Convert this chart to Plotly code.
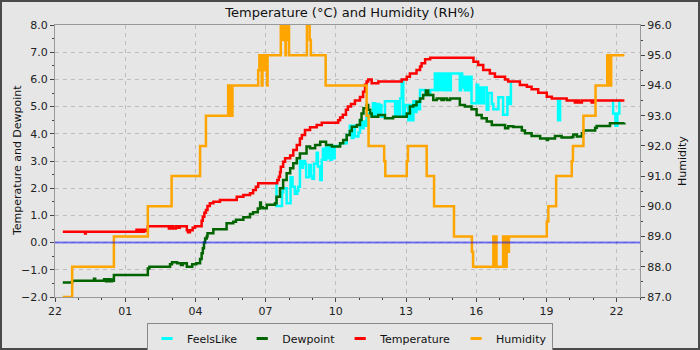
import pandas as pd
import plotly.graph_objects as go

# ---- data: clock times (22:00 -> 22:20 next day) and readings ----
DAY0 = "2024-05-14"

temp_time = ["22:20", "23:17", "23:19", "01:29", "01:33", "01:38", "01:43", "01:48", "01:53", "01:58",
             "02:52", "02:57", "03:03", "03:10", "03:15", "03:20", "03:38", "03:41", "03:46", "03:53",
             "03:59", "04:16", "04:19", "04:23", "04:27", "04:31", "04:37", "04:46", "05:03", "05:46",
             "06:03", "06:20", "06:28", "06:35", "06:41", "07:30", "07:34", "07:37", "07:39", "07:45",
             "07:50", "08:03", "08:11", "08:20", "08:28", "08:33", "08:41", "08:54", "09:11", "09:24",
             "10:06", "10:11", "10:18", "10:26", "10:31", "10:39", "10:49", "11:02", "11:10", "11:15",
             "11:19", "11:23", "11:32", "11:49", "12:49", "13:02", "13:10", "13:27", "13:36", "13:40",
             "13:49", "14:02", "15:53", "16:05", "16:18", "16:35", "16:48", "17:14", "17:22", "17:52",
             "18:10", "18:22", "18:39", "19:01", "19:14", "19:52", "20:13", "20:18", "20:24", "20:31",
             "20:56", "21:02", "22:20"]
temperature = [0.40, 0.33, 0.40, 0.47, 0.40, 0.47, 0.40, 0.47, 0.43, 0.60,
               0.52, 0.60, 0.52, 0.60, 0.55, 0.60, 0.45, 0.38, 0.45, 0.55,
               0.60, 0.80, 0.95, 1.10, 1.20, 1.35, 1.45, 1.50, 1.57, 1.69,
               1.75, 1.81, 1.93, 2.05, 2.18, 2.30, 2.42, 2.60, 2.79, 2.97,
               3.10, 3.20, 3.40, 3.59, 3.83, 3.96, 4.14, 4.24, 4.32, 4.41,
               4.50, 4.60, 4.70, 4.88, 5.00, 5.10, 5.22, 5.35, 5.55, 5.80,
               5.92, 6.00, 5.86, 5.92, 6.00, 6.10, 6.22, 6.35, 6.47, 6.59,
               6.74, 6.80, 6.65, 6.53, 6.35, 6.22, 6.10, 6.00, 5.92, 5.79,
               5.73, 5.64, 5.51, 5.36, 5.30, 5.22, 5.15, 5.22, 5.15, 5.22,
               5.15, 5.22, 5.22]

dew_time = ["22:20", "22:44", "23:40", "23:43", "00:06", "00:11", "00:16", "00:21", "00:26", "00:30",
            "00:31", "01:58", "02:02", "02:55", "03:00", "03:13", "03:23", "03:28", "03:38", "03:52",
            "04:02", "04:12", "04:16", "04:19", "04:22", "04:25", "04:29", "04:31", "04:46", "05:20",
            "05:37", "05:44", "06:03", "06:20", "06:28", "06:40", "06:46", "06:48", "06:53", "07:03",
            "07:24", "07:28", "07:37", "07:45", "07:54", "08:03", "08:11", "08:20", "08:28", "08:45",
            "08:54", "09:07", "09:20", "09:35", "09:50", "10:11", "10:19", "10:28", "10:36", "10:41",
            "10:54", "11:02", "11:06", "11:11", "11:19", "11:23", "11:28", "11:32", "11:49", "12:06",
            "12:27", "13:02", "13:10", "13:19", "13:27", "13:36", "13:44", "13:51", "13:57", "14:10",
            "14:19", "14:31", "14:37", "14:45", "14:53", "15:18", "15:31", "15:48", "16:01", "16:14",
            "16:27", "16:40", "17:14", "17:22", "17:35", "17:57", "18:05", "18:22", "18:44", "19:01",
            "19:04", "19:22", "19:39", "20:05", "20:09", "20:18", "20:31", "20:35", "21:05", "21:09",
            "21:43", "22:20"]
dewpoint = [-1.47, -1.40, -1.33, -1.40, -1.35, -1.42, -1.35, -1.42, -1.36, -1.40,
            -1.19, -0.95, -0.89, -0.80, -0.72, -0.76, -0.82, -0.76, -0.89, -0.80,
            -0.76, -0.60, -0.39, -0.21, 0.00, 0.15, 0.22, 0.34, 0.49, 0.71,
            0.77, 0.84, 0.93, 1.05, 1.12, 1.25, 1.47, 1.30, 1.26, 1.39,
            1.45, 1.69, 2.00, 2.30, 2.55, 2.73, 2.92, 3.10, 3.28, 3.53,
            3.47, 3.59, 3.71, 3.59, 3.53, 3.65, 3.77, 3.96, 4.10, 4.26,
            4.32, 4.51, 4.75, 4.94, 5.06, 4.88, 4.75, 4.63, 4.69, 4.57,
            4.63, 4.75, 5.00, 5.05, 5.18, 5.30, 5.43, 5.59, 5.43, 5.24,
            5.30, 5.24, 5.30, 5.24, 5.30, 5.06, 5.00, 4.90, 4.69, 4.57,
            4.45, 4.32, 4.20, 4.28, 4.25, 4.12, 4.02, 3.92, 3.83, 3.77,
            3.83, 3.92, 3.86, 3.88, 3.97, 3.90, 4.02, 4.12, 4.22, 4.29,
            4.39, 4.41]

# FeelsLike is only listed where it departs from the air temperature (None = gap)
feels_time = ["07:27", "07:28", "07:42", "07:45", "07:54", "08:04", "08:09", "08:15", "08:21", "08:24",
              "08:28", "08:32", "08:36", "08:41", "08:44", "08:52", "08:56", "09:00", "09:04", "09:11",
              "09:14", "09:20", "09:24", "09:27", "09:31", "09:35", "09:39", "09:43", "09:46", "09:50",
              "09:54", "09:57", "10:11", "10:28", "10:36", "10:41", "10:45", "10:49", "10:58", "11:02",
              "11:06", "11:11", "11:15", "11:19", "11:28", "11:35", "11:41", "11:46", "11:51", "11:53",
              "11:57", "12:06", "12:32", "12:36", "12:40", "12:45", "12:49", "12:53", "12:57", "13:06",
              "13:10", "13:15", "13:19", "13:23", "13:27", "13:32", "13:36", "13:49", "14:02", "14:14",
              "14:18", "14:22", "14:27", "14:31", "14:37", "14:40", "14:44", "14:48", "14:53", "14:55",
              "15:18", "15:21", "15:24", "15:27", "15:31", "15:35", "15:39", "15:43", "15:48", "16:01",
              "16:05", "16:10", "16:15", "16:20", "16:27", "16:31", "16:40", "16:44", "16:57", "17:09",
              "17:20", "17:24", "17:29", None,
              "19:29", "19:30", "19:35", None,
              "21:50", "21:51", "21:57", "22:02", "22:07"]
feels_like = [2.25, 1.35, 1.85, 2.00, 1.45, 2.40, 2.05, 1.80, 1.90, 2.05,
              3.00, 2.75, 3.00, 2.90, 2.40, 2.85, 2.45, 2.35, 2.90, 3.30,
              2.80, 2.30, 3.05, 3.45, 3.05, 3.50, 3.10, 3.55, 3.05, 3.50,
              3.10, 3.55, 3.65, 3.96, 4.30, 3.85, 4.30, 3.90, 4.05, 4.50,
              4.20, 4.45, 4.30, 4.75, 4.65, 5.12, 4.70, 5.10, 4.70, 5.06,
              4.63, 5.20, 4.63, 5.20, 4.63, 5.30, 5.98, 4.63, 5.06, 4.50,
              5.06, 4.50, 5.20, 4.80, 5.20, 4.90, 5.61, 5.43, 5.61, 6.22,
              5.60, 6.22, 5.61, 6.22, 5.60, 6.22, 5.60, 6.22, 5.60, 6.22,
              5.60, 6.22, 5.70, 6.10, 5.60, 6.10, 5.60, 6.10, 5.12, 5.80,
              5.12, 5.70, 5.12, 5.70, 4.88, 5.50, 5.10, 4.90, 5.34, 4.70,
              5.34, 5.10, 5.92, None,
              5.25, 4.50, 5.25, None,
              5.22, 4.75, 4.30, 4.75, 5.22]

hum_time = ["22:20", "22:44", "00:31", "01:58", "02:59", "04:12", "04:27", "05:24", "05:29", "05:35",
            "06:41", "06:44", "06:47", "06:50", "06:52", "06:53", "06:56", "06:58", "07:01", "07:04",
            "07:05", "07:39", "07:44", "07:47", "07:51", "07:52", "07:56", "08:00", "08:46", "08:53",
            "08:56", "09:34", "11:19", "11:24", "12:04", "12:07", "13:02", "13:05", "13:53", "14:12",
            "15:03", "15:49", "15:52", "16:44", "16:47", "16:49", "16:52", "17:09", "17:14", "17:18",
            "17:21", "17:24", "19:01", "19:05", "19:25", "20:05", "20:08", "20:35", "21:06", "21:36",
            "21:39", "21:41", "21:44", "21:46", "22:20"]
humidity = [87.0, 88.0, 89.0, 90.0, 91.0, 92.0, 93.0, 94.0, 93.0, 94.0,
            94.5, 95.0, 94.5, 94.0, 94.5, 95.0, 94.5, 95.0, 94.5, 94.0,
            95.0, 96.0, 95.5, 96.0, 95.0, 95.5, 96.0, 95.0, 96.0, 95.5,
            95.0, 94.0, 93.0, 92.0, 91.5, 91.0, 91.5, 92.0, 91.0, 90.0,
            89.0, 88.5, 88.0, 89.0, 88.0, 89.0, 88.0, 89.0, 88.0, 89.0,
            88.5, 89.0, 89.5, 90.0, 91.0, 91.5, 92.0, 93.0, 94.0, 95.0,
            94.0, 95.0, 94.0, 95.0, 95.0]

zero_marker = 0.0
left_range = [-2.0, 8.0]
right_range = [87.0, 96.0]

FONT = "DejaVu Sans"
BG = "#e6e6e6"

# plot-area geometry in pixels (700 x 350 canvas)
M_L, M_R, M_T, M_B = 55, 60, 25, 53
PLOT_W = 700 - M_L - M_R
PLOT_H = 350 - M_T - M_B


def to_times(clock):
    """Clock strings -> timestamps; once the clock passes midnight it stays on day two."""
    out, day2 = [], False
    start = pd.Timestamp(DAY0)
    for c in clock:
        if c is None:
            out.append(None)
            continue
        hh, mm = map(int, c.split(":"))
        if hh < 22:
            day2 = True
        out.append(start + pd.Timedelta(days=1 if day2 else 0, hours=hh, minutes=mm))
    return out


series = [
    ("FeelsLike", feels_time, feels_like, "#00ffff", "y"),
    ("Dewpoint", dew_time, dewpoint, "#006400", "y"),
    ("Temperature", temp_time, temperature, "#ff0000", "y"),
    ("Humidity", hum_time, humidity, "#ffa500", "y2"),
]

fig = go.Figure()
for name, t, v, color, ax in series:
    fig.add_trace(go.Scatter(
        x=to_times(t), y=v, name=name, yaxis=ax, mode="lines",
        line=dict(color=color, width=2.5, shape="hv"),
        connectgaps=False, legendgroup=name, showlegend=False,
    ))
# short dash legend keys
for name, t, v, color, ax in series:
    fig.add_trace(go.Scatter(
        x=[None], y=[None], name=name, mode="markers", legendgroup=name,
        marker=dict(symbol="line-ew", size=8, color=color, line=dict(color=color, width=3)),
    ))

x0 = pd.Timestamp(DAY0) + pd.Timedelta(hours=22)
x1 = x0 + pd.Timedelta(hours=25)

tickfont = dict(family=FONT, size=11, color="#222")
fig.update_layout(
    width=700, height=350,
    margin=dict(l=M_L, r=M_R, t=M_T, b=M_B),
    paper_bgcolor=BG, plot_bgcolor=BG,
    font=dict(family=FONT, size=11, color="#222"),
    title=dict(text="Temperature (°C) and Humidity (RH%)", x=0.5, xref="container",
               y=1 - 12 / 350, yref="container", yanchor="middle", xanchor="center",
               font=dict(family=FONT, size=13, color="#111")),
    xaxis=dict(type="date", range=[x0, x1], tickformat="%H", dtick=3 * 3600 * 1000, tick0=x0,
               ticks="outside", ticklen=4, tickcolor="#444", tickfont=tickfont,
               showline=True, linecolor="#999", linewidth=1, mirror=True,
               showgrid=True, gridcolor="#bdbdbd", griddash="4px,4px", gridwidth=1,
               minor=dict(ticks="outside", dtick=3600 * 1000, ticklen=2, tickcolor="#444", showgrid=False),
               zeroline=False, automargin=False),
    yaxis=dict(range=left_range, dtick=1.0, tickformat=".1f", ticks="outside", ticklen=4,
               tickcolor="#444", tickfont=tickfont, showline=True, linecolor="#999",
               showgrid=True, gridcolor="#bdbdbd", griddash="4px,4px", gridwidth=1,
               minor=dict(ticks="outside", dtick=0.5, ticklen=2, tickcolor="#444", showgrid=False),
               zeroline=False, automargin=False),
    yaxis2=dict(range=right_range, dtick=1.0, tickformat=".1f", overlaying="y", side="right",
                ticks="outside", ticklen=4, tickcolor="#444", tickfont=tickfont,
                showline=True, linecolor="#999", showgrid=False, zeroline=False,
                minor=dict(ticks="outside", dtick=0.5, ticklen=2, tickcolor="#444", showgrid=False),
                automargin=False),
    legend=dict(orientation="h", x=0.5, xanchor="center", xref="container",
                y=(350 - 323) / 350, yanchor="top", yref="container",
                bgcolor=BG, bordercolor="#888", borderwidth=1,
                font=dict(family=FONT, size=11, color="#111"), itemwidth=30),
    annotations=[
        dict(text="Temperature and Dewpoint", textangle=-90, xref="paper", yref="paper",
             x=(17 - M_L) / PLOT_W, y=0.5, xanchor="center", yanchor="middle", showarrow=False,
             font=dict(family=FONT, size=11, color="#111")),
        dict(text="Humidity", textangle=-90, xref="paper", yref="paper",
             x=(682 - M_L) / PLOT_W, y=0.5, xanchor="center", yanchor="middle", showarrow=False,
             font=dict(family=FONT, size=11, color="#111")),
    ],
    shapes=[
        dict(type="line", xref="paper", x0=0, x1=1, yref="y", y0=zero_marker, y1=zero_marker,
             line=dict(color="rgba(0,0,255,0.5)", width=2), layer="above"),
        dict(type="rect", xref="paper", yref="paper",
             x0=(1 - M_L) / PLOT_W, x1=(699 - M_L) / PLOT_W,
             y0=(M_T + PLOT_H - 349) / PLOT_H, y1=(M_T + PLOT_H - 1) / PLOT_H,
             line=dict(color="#4a4a4a", width=2), layer="above"),
    ],
)

fig.write_html("out.html")
